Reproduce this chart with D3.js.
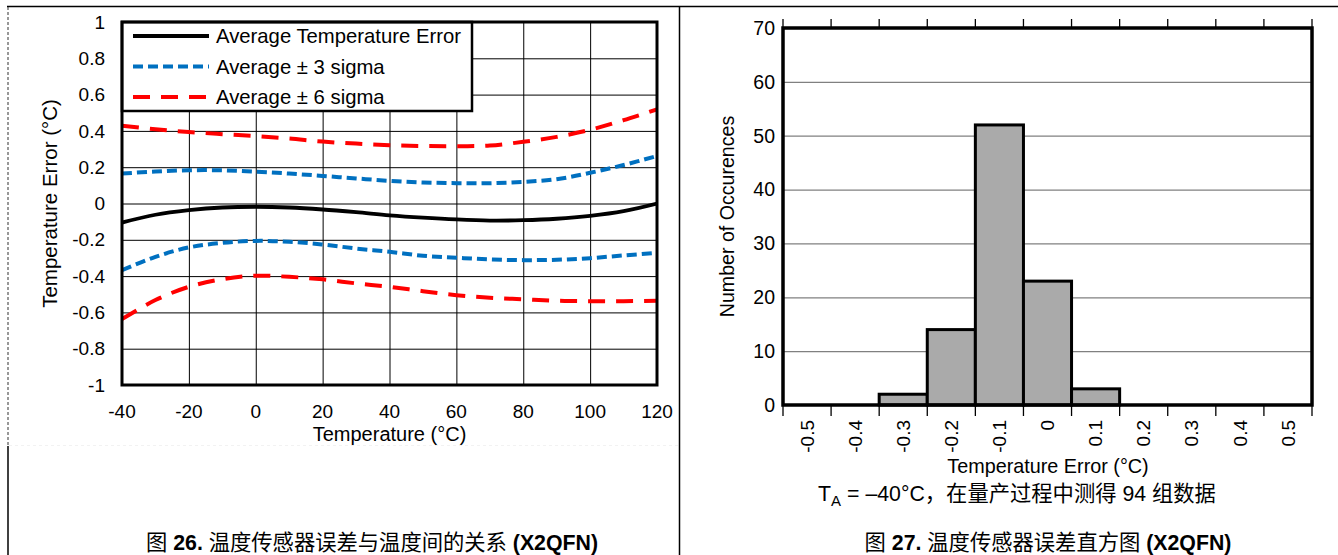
<!DOCTYPE html>
<html><head><meta charset="utf-8">
<script src="https://cdn.jsdelivr.net/npm/d3@7"></script>
<style>
html,body{margin:0;padding:0;background:#fff;}
svg{display:block;}
text{font-family:"Liberation Sans",Arial,"Noto Sans CJK SC",sans-serif;fill:#000;}
</style></head>
<body>
<svg id="c" width="1338" height="555"></svg>
<script>
// ---------- Figure 26 data ----------
const temps = [-40,-30,-20,-10,0,10,20,30,40,50,60,70,80,90,100,110,120];
const avgErr = [-0.105,-0.062,-0.037,-0.022,-0.018,-0.022,-0.033,-0.048,-0.065,-0.078,-0.088,-0.094,-0.092,-0.084,-0.068,-0.042,0.0];
const plus3  = [0.165,0.176,0.183,0.183,0.175,0.165,0.152,0.138,0.125,0.116,0.112,0.112,0.119,0.134,0.169,0.212,0.262];
const minus3 = [-0.367,-0.294,-0.242,-0.217,-0.206,-0.211,-0.226,-0.248,-0.266,-0.288,-0.299,-0.308,-0.312,-0.310,-0.301,-0.286,-0.272];
const plus6  = [0.428,0.409,0.394,0.382,0.371,0.358,0.341,0.330,0.321,0.317,0.316,0.319,0.340,0.367,0.406,0.459,0.519];
const minus6 = [-0.637,-0.532,-0.459,-0.417,-0.398,-0.404,-0.418,-0.440,-0.459,-0.483,-0.505,-0.519,-0.528,-0.536,-0.538,-0.538,-0.536];
const xTicksL = [-40,-20,0,20,40,60,80,100,120];
const yTicksL = [-1,-0.8,-0.6,-0.4,-0.2,0,0.2,0.4,0.6,0.8,1];
const yTickLabelsL = ["-1","-0.8","-0.6","-0.4","-0.2","0","0.2","0.4","0.6","0.8","1"];
const legendLabels = ["Average Temperature Error","Average \u00b1 3 sigma","Average \u00b1 6 sigma"];

// ---------- Figure 27 data ----------
const bins = ["-0.5","-0.4","-0.3","-0.2","-0.1","0","0.1","0.2","0.3","0.4","0.5"];
const counts = [0,0,2,14,52,23,3,0,0,0,0];
const yTicksR = [0,10,20,30,40,50,60,70];

const svg = d3.select("#c");

// ---------- page frame ----------
svg.append("line").attr("x1",7).attr("x2",1338).attr("y1",6.5).attr("y2",6.5).attr("stroke","#000").attr("stroke-width",1.5);
svg.append("line").attr("x1",8).attr("x2",8).attr("y1",7).attr("y2",446).attr("stroke","#333").attr("stroke-width",1).attr("stroke-dasharray","3,2");
svg.append("line").attr("x1",8).attr("x2",8).attr("y1",446).attr("y2",555).attr("stroke","#000").attr("stroke-width",1.5);
svg.append("line").attr("x1",679.5).attr("x2",679.5).attr("y1",6).attr("y2",555).attr("stroke","#000").attr("stroke-width",1.5);
svg.append("line").attr("x1",9).attr("x2",679).attr("y1",445.5).attr("y2",445.5).attr("stroke","#f2f2f2").attr("stroke-width",1).attr("stroke-dasharray","3,3");

// ---------- Figure 26 ----------
const xL = d3.scaleLinear().domain([-40,120]).range([122,657]);
const yL = d3.scaleLinear().domain([-1,1]).range([385,22]);
const gL = svg.append("g");

// grid
gL.append("g").call(d3.axisBottom(xL).tickValues(xTicksL).tickSize(-(yL(-1)-yL(1))).tickFormat(""))
  .attr("transform",`translate(0,${yL(-1)})`)
  .call(g=>{g.select(".domain").remove(); g.selectAll("line").attr("stroke","#000").attr("stroke-width",1);});
gL.append("g").call(d3.axisLeft(yL).tickValues(yTicksL).tickSize(-(xL(120)-xL(-40))).tickFormat(""))
  .attr("transform",`translate(${xL(-40)},0)`)
  .call(g=>{g.select(".domain").remove(); g.selectAll("line").attr("stroke","#000").attr("stroke-width",1);});

// tick labels
gL.append("g").selectAll("text").data(yTicksL).join("text")
  .attr("x",105).attr("y",d=>yL(d)).attr("dy","0.35em").attr("text-anchor","end")
  .attr("font-size",19).text((d,i)=>yTickLabelsL[i]);
gL.append("g").selectAll("text").data(xTicksL).join("text")
  .attr("x",d=>xL(d)).attr("y",418).attr("text-anchor","middle")
  .attr("font-size",19).text(d=>String(d));

gL.append("text").attr("transform",`translate(57,${(yL(1)+yL(-1))/2}) rotate(-90)`)
  .attr("text-anchor","middle").attr("font-size",20.5).text("Temperature Error (\u00b0C)");
gL.append("text").attr("x",(xL(-40)+xL(120))/2).attr("y",441).attr("text-anchor","middle")
  .attr("font-size",20).text("Temperature (\u00b0C)");

// curves
const line = d3.line().x((d,i)=>xL(temps[i])).y(d=>yL(d)).curve(d3.curveCatmullRom.alpha(0.5));
svg.append("defs").append("clipPath").attr("id","clipL").append("rect")
  .attr("x",xL(-40)).attr("y",yL(1)).attr("width",xL(120)-xL(-40)).attr("height",yL(-1)-yL(1));
const curves = gL.append("g").attr("clip-path","url(#clipL)");
const series = [
  {v:minus6, c:"#ff0000", w:4, dash:"17,11"},
  {v:plus6,  c:"#ff0000", w:4, dash:"17,11"},
  {v:minus3, c:"#0070c0", w:4, dash:"10,5"},
  {v:plus3,  c:"#0070c0", w:4, dash:"10,5"},
  {v:avgErr, c:"#000000", w:3.8, dash:null}
];
series.forEach(s=>{
  curves.append("path").attr("d",line(s.v)).attr("fill","none").attr("stroke",s.c)
    .attr("stroke-width",s.w).attr("stroke-dasharray",s.dash);
});

// legend
const lg = gL.append("g");
lg.append("rect").attr("x",xL(-40)).attr("y",yL(1)).attr("width",350).attr("height",89)
  .attr("fill","#fff").attr("stroke","#000").attr("stroke-width",2.5);
const legStyles = [{c:"#000",dash:null},{c:"#0070c0",dash:"10,5"},{c:"#ff0000",dash:"17,11"}];
legendLabels.forEach((t,i)=>{
  const y = 36 + i*30.5;
  lg.append("line").attr("x1",133).attr("x2",209).attr("y1",y).attr("y2",y)
    .attr("stroke",legStyles[i].c).attr("stroke-width",i===0?3.8:4).attr("stroke-dasharray",legStyles[i].dash);
  lg.append("text").attr("x",216).attr("y",y).attr("dy","0.35em").attr("font-size",20.3).text(t);
});

// plot border
gL.append("rect").attr("x",xL(-40)).attr("y",yL(1)).attr("width",xL(120)-xL(-40)).attr("height",yL(-1)-yL(1))
  .attr("fill","none").attr("stroke","#000").attr("stroke-width",3);

// caption
const cap1 = svg.append("text").attr("x",372).attr("y",550).attr("text-anchor","middle").attr("font-size",21.3);
cap1.append("tspan").text("图 ");
cap1.append("tspan").attr("font-weight","bold").text("26.");
cap1.append("tspan").text(" 温度传感器误差与温度间的关系 ");
cap1.append("tspan").attr("font-weight","bold").text("(X2QFN)");

// ---------- Figure 27 ----------
const xR = d3.scaleBand().domain(bins).range([783,1312]).padding(0);
const yR = d3.scaleLinear().domain([0,70]).range([405,28]);
const gR = svg.append("g");

// gridlines
gR.append("g").attr("transform",`translate(${xR.range()[0]},0)`)
  .call(d3.axisLeft(yR).tickValues(yTicksR.filter(d=>d>0&&d<70)).tickSize(-(1312-783)).tickFormat(""))
  .call(g=>{g.select(".domain").remove(); g.selectAll("line").attr("stroke","#808080").attr("stroke-width",1.2);});

// bars
gR.append("g").selectAll("rect").data(counts).join("rect")
  .attr("x",(d,i)=>xR(bins[i])).attr("width",xR.bandwidth())
  .attr("y",d=>yR(d)).attr("height",d=>yR(0)-yR(d))
  .attr("fill","#aaaaaa").attr("stroke","#000").attr("stroke-width",3)
  .attr("display",d=>d>0?null:"none");

// tick marks at bin edges (top & bottom)
const edges = bins.map(b=>xR(b)).concat([xR.range()[1]]);
gR.append("g").selectAll("line").data(edges).join("line")
  .attr("x1",d=>d).attr("x2",d=>d).attr("y1",yR(0)).attr("y2",yR(0)+11)
  .attr("stroke","#000").attr("stroke-width",1.3);
gR.append("g").selectAll("line").data(edges).join("line")
  .attr("x1",d=>d).attr("x2",d=>d).attr("y1",yR(70)-9).attr("y2",yR(70))
  .attr("stroke","#000").attr("stroke-width",1.3);

// border
gR.append("rect").attr("x",783).attr("y",yR(70)).attr("width",1312-783).attr("height",yR(0)-yR(70))
  .attr("fill","none").attr("stroke","#000").attr("stroke-width",3.5);

// labels
gR.append("g").selectAll("text").data(yTicksR).join("text")
  .attr("x",775).attr("y",d=>yR(d)).attr("dy","0.35em").attr("text-anchor","end")
  .attr("font-size",19.5).text(d=>String(d));
gR.append("g").selectAll("text").data(bins).join("text")
  .attr("transform",d=>`translate(${xR(d)+xR.bandwidth()/2},420) rotate(-90)`)
  .attr("text-anchor","end").attr("dy","0.35em").attr("font-size",19).text(d=>d);
gR.append("text").attr("transform",`translate(734,${(yR(0)+yR(70))/2}) rotate(-90)`)
  .attr("text-anchor","middle").attr("font-size",19.6).text("Number of Occurences");
gR.append("text").attr("x",1048).attr("y",473).attr("text-anchor","middle").attr("font-size",19.8)
  .text("Temperature Error (\u00b0C)");
const sub = gR.append("text").attr("x",1017).attr("y",501).attr("text-anchor","middle").attr("font-size",21.3);
sub.append("tspan").text("T");
sub.append("tspan").attr("font-size",15).attr("dy",5).text("A");
sub.append("tspan").attr("dy",-5).text(" = \u201340\u00b0C，在量产过程中测得 94 组数据");

const cap2 = svg.append("text").attr("x",1048).attr("y",550).attr("text-anchor","middle").attr("font-size",21.3);
cap2.append("tspan").text("图 ");
cap2.append("tspan").attr("font-weight","bold").text("27.");
cap2.append("tspan").text(" 温度传感器误差直方图 ");
cap2.append("tspan").attr("font-weight","bold").text("(X2QFN)");
</script>
</body></html>
